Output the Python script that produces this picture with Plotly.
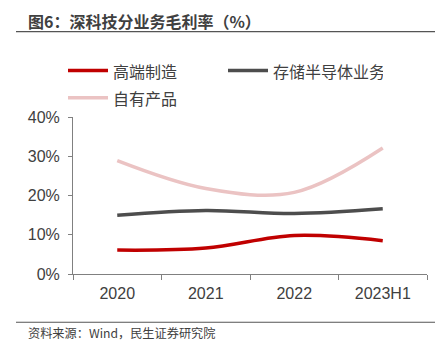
import plotly.graph_objects as go

categories = ["2020", "2021", "2022", "2023H1"]
high_end = [6.1, 6.6, 9.8, 8.5]
storage = [15.0, 16.2, 15.4, 16.6]
own_products = [28.9, 21.8, 20.8, 32.1]
y_ticks = [0, 10, 20, 30, 40]
y_tick_labels = ["0%", "10%", "20%", "30%", "40%"]

# page body has an 8px margin; figure coordinates are screen minus 8
OFF = 8
W, H = 443 - OFF, 356 - OFF
L, R, T, B = 73 - OFF, 443 - 427, 116.5 - OFF, 356 - 273.7
font_family = "Liberation Sans, Noto Sans CJK SC, sans-serif"
txt = "#404040"

fig = go.Figure()
series = [
    ("高端制造", high_end, "#C00000"),
    ("存储半导体业务", storage, "#4D4D4D"),
    ("自有产品", own_products, "#EBC3C3"),
]
for name, vals, col in series:
    fig.add_trace(go.Scatter(
        x=categories, y=vals, mode="lines",
        name="<span style='font-size:16px'>" + name + "</span>",
        line=dict(color=col, width=3.5, shape="spline", smoothing=1.0),
    ))

ph = H - T - B
pw = W - L - R
def py(sy):
    return 1 - ((sy - OFF) - T) / ph
def px(sx):
    return ((sx - OFF) - L) / pw

fig.update_layout(
    width=W, height=H,
    margin=dict(l=L, r=R, t=T, b=B, pad=0, autoexpand=False),
    paper_bgcolor="white", plot_bgcolor="white",
    font=dict(family=font_family, size=16, color=txt),
    showlegend=True,
    legend=dict(
        orientation="h", x=px(63), y=py(51.5), xanchor="left", yanchor="top",
        entrywidth=105, entrywidthmode="pixels",
        font=dict(size=18.5, color=txt, family="Noto Sans CJK SC, sans-serif"),
        bgcolor="rgba(0,0,0,0)", itemwidth=40, tracegroupgap=0,
    ),
    xaxis=dict(
        type="category", range=[-0.5, 3.5], showgrid=False,
        showline=True, linecolor="#808080", linewidth=1,
        ticks="outside", ticklen=5, tickcolor="#808080", tickson="boundaries",
        tickfont=dict(size=16, color=txt), ticklabelstandoff=5, fixedrange=True,
    ),
    yaxis=dict(
        range=[0, 40], tickvals=y_ticks, ticktext=y_tick_labels,
        showgrid=False, zeroline=False,
        showline=True, linecolor="#808080", linewidth=1,
        ticks="outside", ticklen=4, tickcolor="#808080",
        tickfont=dict(size=16, color=txt), ticklabelstandoff=5, fixedrange=True,
    ),
)

# Title and rules
fig.add_annotation(
    text="<b>图6：深科技分业务毛利率（%）</b>", xref="paper", yref="paper",
    x=px(26), y=py(20), xanchor="left", yanchor="middle", showarrow=False,
    font=dict(size=16, color="#404040", family="Noto Sans CJK SC, sans-serif"),
)
fig.add_shape(type="line", xref="paper", yref="paper",
              x0=px(16), x1=px(436), y0=py(31), y1=py(31),
              line=dict(color="#555555", width=1.2))
fig.add_shape(type="line", xref="paper", yref="paper",
              x0=px(16), x1=px(436), y0=py(322), y1=py(322),
              line=dict(color="#555555", width=1.2))
fig.add_annotation(
    text="资料来源：Wind，民生证券研究院", xref="paper", yref="paper",
    x=px(26), y=py(333), xanchor="left", yanchor="middle", showarrow=False,
    font=dict(size=12.2, color="#404040", family="Noto Sans CJK SC, sans-serif"),
)

fig.write_html("out.html")
